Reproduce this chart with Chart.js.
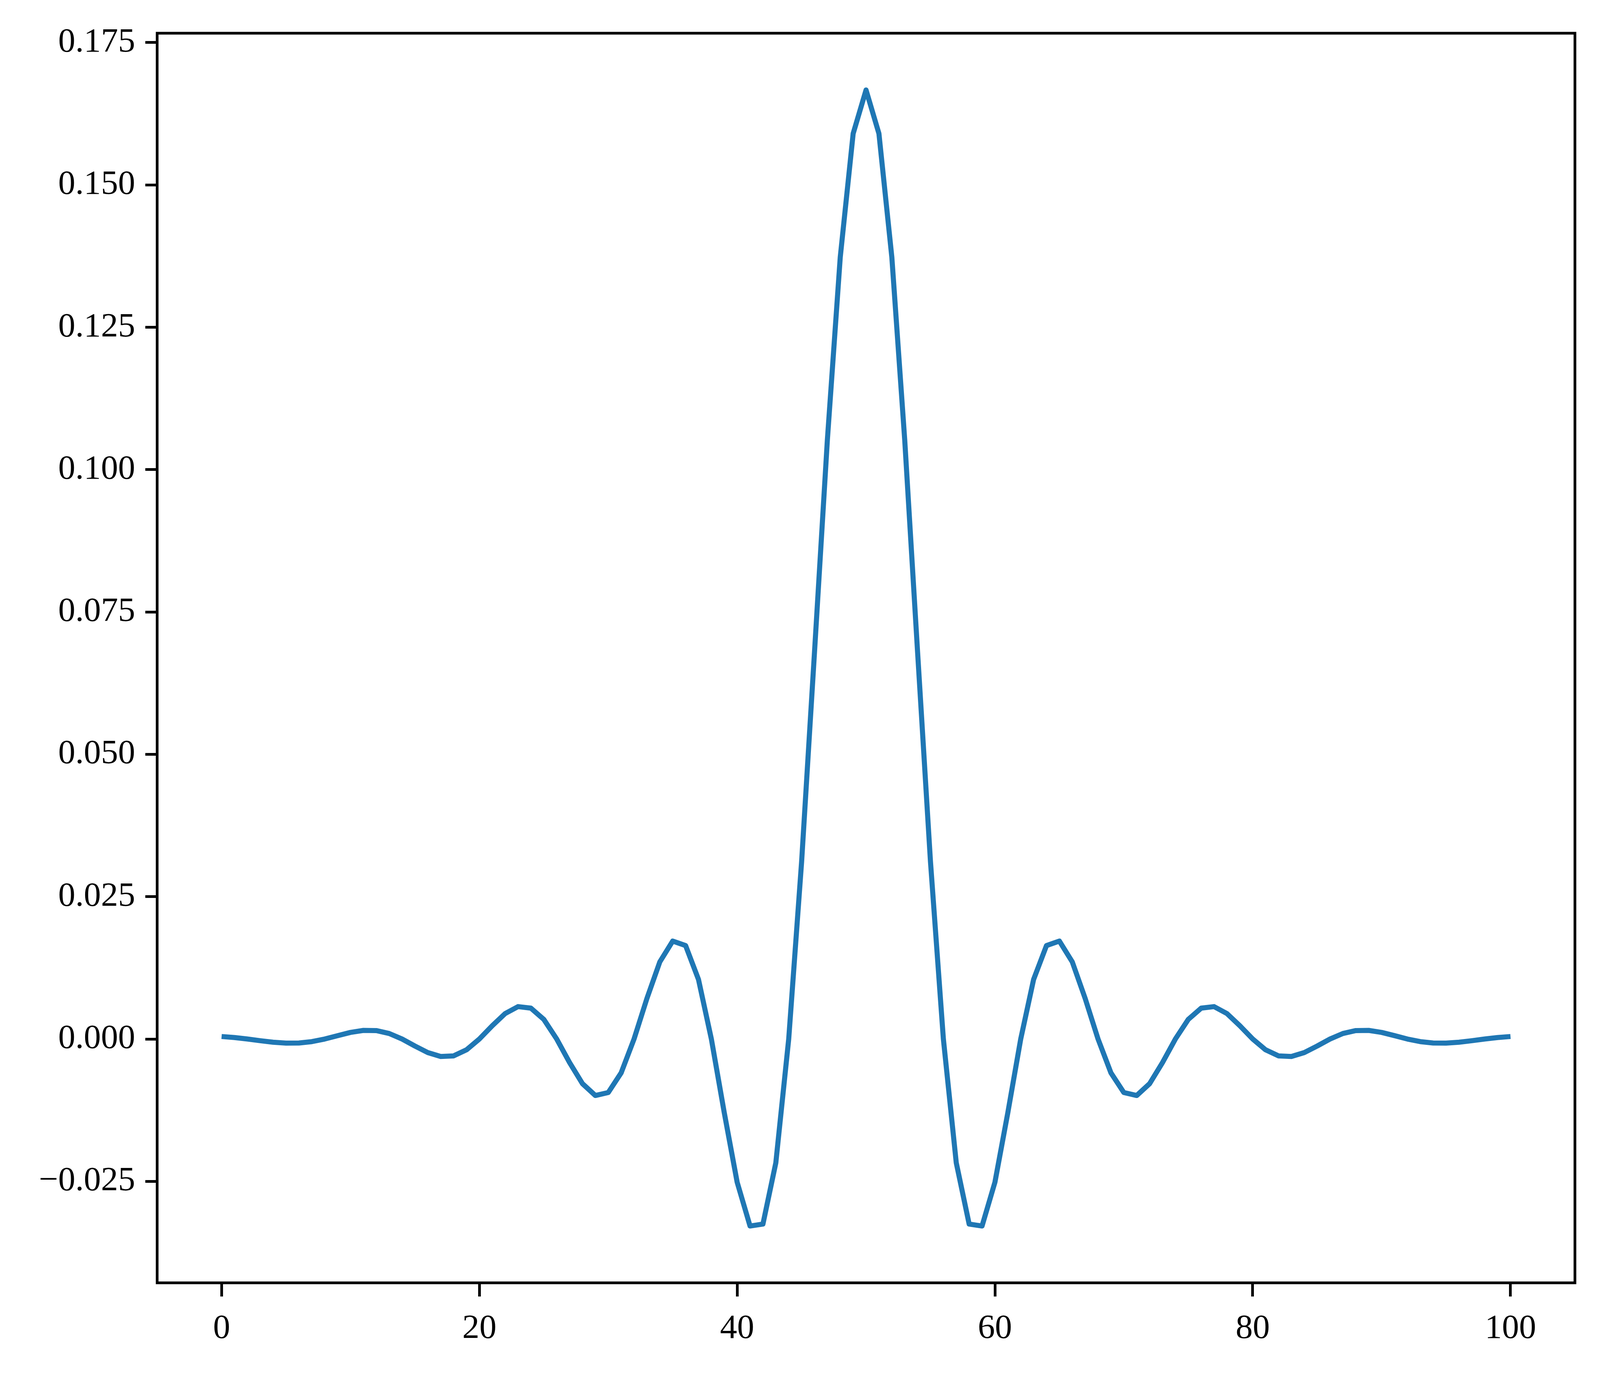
<!DOCTYPE html>
<html>
<head>
<meta charset="utf-8">
<script src="https://cdn.jsdelivr.net/npm/chart.js@4/dist/chart.umd.min.js"></script>
<style>
  html, body { margin: 0; padding: 0; background: #fff; overflow: hidden; }
  #wrap { position: relative; width: 100vw; height: 100vh; }
</style>
</head>
<body>
<div id="wrap"><canvas id="tapsChart"></canvas></div>
<script>
// filter taps, n = 0 .. 100
const taps = [
    0.00044, 0.00026, 0.00000, -0.00030, -0.00057, -0.00072, -0.00070, -0.00046, 0.00000, 0.00059,
    0.00116, 0.00151, 0.00148, 0.00097, 0.00000, -0.00123, -0.00238, -0.00307, -0.00296, -0.00190,
    0.00000, 0.00234, 0.00447, 0.00569, 0.00542, 0.00344, 0.00000, -0.00414, -0.00785, -0.00992,
    -0.00940, -0.00594, 0.00000, 0.00713, 0.01355, 0.01720, 0.01641, 0.01046, 0.00000, -0.01294,
    -0.02515, -0.03284, -0.03250, -0.02174, 0.00000, 0.03111, 0.06792, 0.10524, 0.13733, 0.15901,
    0.16667,
    0.15901, 0.13733, 0.10524, 0.06792, 0.03111, 0.00000, -0.02174, -0.03250, -0.03284, -0.02515,
    -0.01294, 0.00000, 0.01046, 0.01641, 0.01720, 0.01355, 0.00713, 0.00000, -0.00594, -0.00940,
    -0.00992, -0.00785, -0.00414, 0.00000, 0.00344, 0.00542, 0.00569, 0.00447, 0.00234, 0.00000,
    -0.00190, -0.00296, -0.00307, -0.00238, -0.00123, 0.00000, 0.00097, 0.00148, 0.00151, 0.00116,
    0.00059, 0.00000, -0.00046, -0.00070, -0.00072, -0.00057, -0.00030, 0.00000, 0.00026, 0.00044
];
const xTicks = [0, 20, 40, 60, 80, 100];
const yTicks = [-0.025, 0, 0.025, 0.05, 0.075, 0.1, 0.125, 0.15, 0.175];

const points = taps.map((v, i) => ({ x: i, y: v }));

// the reference is 4724 x 3524; scale sizes to the real viewport
const kx = window.innerWidth / 4724;
const ky = window.innerHeight / 3524;
const k = Math.min(kx, ky);

const fmtY = v => {
    const s = Math.abs(v).toFixed(3);
    return v < 0 ? '\u2212' + s : s;
};

// matplotlib-style box around the axes
const frame = {
    id: 'frame',
    afterDraw(chart) {
        const { ctx, chartArea: a } = chart;
        ctx.save();
        ctx.strokeStyle = '#000';
        ctx.lineWidth = 8 * k;
        ctx.strokeRect(a.left, a.top, a.right - a.left, a.bottom - a.top);
        ctx.restore();
    }
};

const tickFont = { family: '"Liberation Serif", "DejaVu Serif", serif', size: 101 * k };
const xGrid = { drawOnChartArea: false, drawTicks: true, tickLength: 35 * ky, tickWidth: 8 * k, tickColor: '#000' };
const yGrid = { drawOnChartArea: false, drawTicks: true, tickLength: 35 * kx, tickWidth: 8 * k, tickColor: '#000' };

new Chart(document.getElementById('tapsChart'), {
    type: 'line',
    data: {
        datasets: [{
            data: points,
            borderColor: '#1f77b4',
            borderWidth: 15 * k,
            borderJoinStyle: 'round',
            pointRadius: 0,
            tension: 0,
            fill: false
        }]
    },
    options: {
        responsive: true,
        maintainAspectRatio: false,
        animation: false,
        layout: { padding: { top: 85 * ky, right: 74 * kx, left: 0, bottom: 0 } },
        plugins: { legend: { display: false }, tooltip: { enabled: false } },
        scales: {
            x: {
                type: 'linear',
                min: -5,
                max: 105,
                afterBuildTicks: s => { s.ticks = xTicks.map(v => ({ value: v })); },
                afterFit: s => { s.height = 241 * ky; },
                border: { display: false },
                grid: xGrid,
                ticks: { color: '#000', font: tickFont, padding: 30 * ky, maxRotation: 0 }
            },
            y: {
                type: 'linear',
                min: -0.04282,
                max: 0.17664,
                afterBuildTicks: s => { s.ticks = yTicks.map(v => ({ value: v })); },
                afterFit: s => { s.width = 464 * kx; },
                border: { display: false },
                grid: yGrid,
                ticks: { color: '#000', font: tickFont, padding: 30 * kx, callback: v => fmtY(v) }
            }
        }
    },
    plugins: [frame]
});
</script>
</body>
</html>
